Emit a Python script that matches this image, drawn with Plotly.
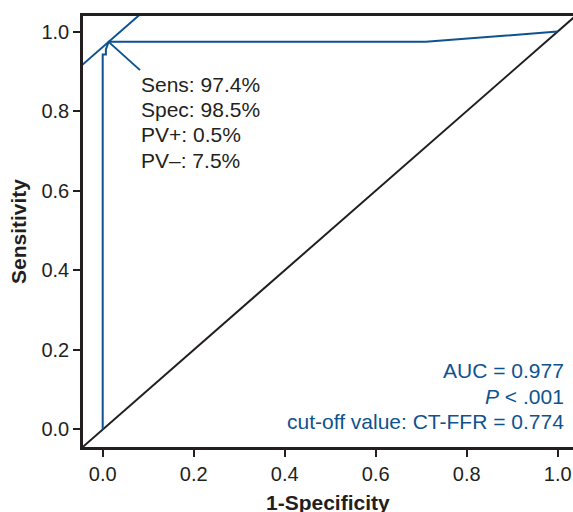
import plotly.graph_objects as go

# ROC curve (1-Specificity, Sensitivity)
roc_fpr = [0.0, 0.0, 0.007, 0.007, 0.013, 0.71, 1.0]
roc_tpr = [0.0, 0.942, 0.942, 0.955, 0.974, 0.974, 1.0]

# reference diagonal
diag_x = [-0.1, 1.1]
diag_y = [-0.1, 1.1]

# Youden tangent line through optimal point (slope 1)
tan_x = [-0.1, 0.15]
tan_y = [-0.1 + 0.961, 0.15 + 0.961]

# pointer line from optimal point to text
ptr_x = [0.013, 0.082]
ptr_y = [0.974, 0.903]

cut_lines = ["Sens: 97.4%", "Spec: 98.5%", "PV+: 0.5%", "PV\u2013: 7.5%"]
cut_y = [0.866, 0.803, 0.740, 0.677]
stat_lines = ["AUC = 0.977", "<i>P</i> &lt; .001", "cut-off value: CT-FFR = 0.774"]
stat_y = [0.147, 0.083, 0.019]

tick_vals = [0.0, 0.2, 0.4, 0.6, 0.8, 1.0]
tick_text = ["0.0", "0.2", "0.4", "0.6", "0.8", "1.0"]

BLUE = "#0e5290"
DARK = "#231f20"
FONT = "Liberation Sans, Arial, sans-serif"

fig = go.Figure()
fig.add_trace(go.Scatter(x=diag_x, y=diag_y, mode="lines",
                         line=dict(color=DARK, width=2), hoverinfo="skip"))
fig.add_trace(go.Scatter(x=tan_x, y=tan_y, mode="lines",
                         line=dict(color=BLUE, width=2), hoverinfo="skip"))
fig.add_trace(go.Scatter(x=ptr_x, y=ptr_y, mode="lines",
                         line=dict(color=BLUE, width=2), hoverinfo="skip"))
fig.add_trace(go.Scatter(x=roc_fpr, y=roc_tpr, mode="lines",
                         line=dict(color=BLUE, width=2), hoverinfo="skip"))

for t, y in zip(cut_lines, cut_y):
    fig.add_annotation(x=0.079, y=y, text=t, showarrow=False, xanchor="left",
                       yanchor="middle", font=dict(family=FONT, size=21, color=DARK))
for t, y in zip(stat_lines, stat_y):
    fig.add_annotation(x=1.019, y=y, text=t, showarrow=False, xanchor="right",
                       yanchor="middle", font=dict(family=FONT, size=21, color=BLUE))

fig.add_annotation(xref="paper", yref="paper", x=0.5, y=0, yshift=-55,
                   text="<b>1-Specificity</b>", showarrow=False,
                   xanchor="center", yanchor="middle",
                   font=dict(family=FONT, size=21, color=DARK))
fig.add_annotation(xref="paper", yref="paper", x=0, y=0.5, xshift=-64.5,
                   text="<b>Sensitivity</b>", showarrow=False, textangle=-90,
                   xanchor="center", yanchor="middle",
                   font=dict(family=FONT, size=21, color=DARK))

axis_common = dict(showgrid=False, zeroline=False, showline=True, linecolor=DARK,
                   linewidth=2.5, ticks="outside", ticklen=7, tickwidth=2,
                   tickcolor=DARK, tickvals=tick_vals, ticktext=tick_text,
                   tickfont=dict(family=FONT, size=20, color=DARK))

fig.update_layout(
    width=573, height=512,
    margin=dict(l=83, r=0, t=16, b=65),
    paper_bgcolor="white", plot_bgcolor="white",
    showlegend=False,
    xaxis=dict(range=[-0.0433, 1.0336], mirror=True, **axis_common),
    yaxis=dict(range=[-0.044, 1.039], mirror=False, **axis_common),
)

fig.write_html(
    "out.html",
    config={"displayModeBar": False},
    post_script="document.body.style.margin='0';document.body.style.overflow='hidden';",
)
